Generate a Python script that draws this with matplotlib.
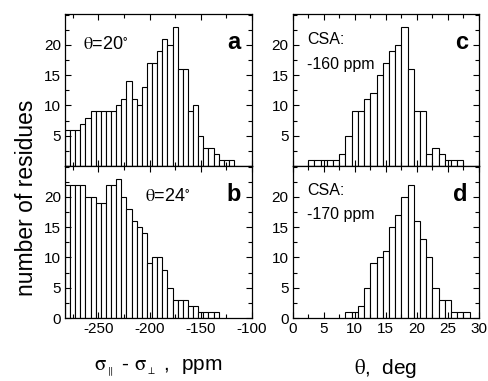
import numpy as np
import matplotlib.pyplot as plt
from matplotlib.ticker import MultipleLocator

plt.rcParams['font.family'] = ['Liberation Sans', 'DejaVu Sans']
plt.rcParams['mathtext.fontset'] = 'stix'
plt.rcParams['axes.unicode_minus'] = False

# histogram data
csa_a = np.arange(-280, -119, 5)
counts_a = [6, 6, 6, 7, 8, 9, 9, 9, 9, 9, 10, 11, 14, 11, 10, 13, 17, 17, 19, 21,
            20, 23, 16, 16, 9, 10, 5, 3, 3, 2, 1, 1, 1]
csa_b = np.arange(-280, -134, 5)
counts_b = [22, 22, 22, 22, 20, 20, 19, 19, 22, 22, 23, 20, 18, 16, 15, 14, 9, 10,
            10, 8, 5, 3, 3, 3, 2, 2, 1, 1, 1, 1]
theta_c = np.arange(3, 28)
counts_c = [1, 1, 1, 1, 1, 2, 5, 9, 9, 11, 12, 15, 17, 19, 20, 23, 16, 9, 9, 2, 3, 2,
            1, 1, 1]
theta_d = np.arange(9, 29)
counts_d = [1, 1, 2, 5, 9, 10, 11, 15, 17, 20, 22, 16, 13, 10, 5, 3, 3, 1, 1, 1]

fig = plt.figure(figsize=(4.88, 3.81), dpi=100)
W, H = 488.0, 381.0

def make_ax(x0, x1, y0, y1):
    return fig.add_axes([x0 / W, 1 - y1 / H, (x1 - x0) / W, (y1 - y0) / H])

ax_a = make_ax(65, 252, 14, 166)
ax_b = make_ax(65, 252, 166, 318)
ax_c = make_ax(292.7, 479, 14, 166)
ax_d = make_ax(292.7, 479, 166, 318)

ax_a.bar(csa_a, counts_a, width=5, color='white', edgecolor='black', linewidth=0.8)
ax_b.bar(csa_b, counts_b, width=5, color='white', edgecolor='black', linewidth=0.8)
ax_c.bar(theta_c, counts_c, width=1, color='white', edgecolor='black', linewidth=0.8)
ax_d.bar(theta_d, counts_d, width=1, color='white', edgecolor='black', linewidth=0.8)

for ax in [ax_a, ax_b]:
    ax.set_xlim(-282.5, -100)
    ax.xaxis.set_major_locator(MultipleLocator(50))
    ax.xaxis.set_minor_locator(MultipleLocator(25))
for ax in [ax_c, ax_d]:
    ax.set_xlim(0, 30)
    ax.xaxis.set_major_locator(MultipleLocator(5))
    ax.xaxis.set_minor_locator(MultipleLocator(2.5))

for ax in [ax_a, ax_b, ax_c, ax_d]:
    ax.set_ylim(0, 25.1)
    ax.yaxis.set_major_locator(MultipleLocator(5))
    ax.yaxis.set_minor_locator(MultipleLocator(2.5))
    ax.tick_params(which='both', direction='in', top=True, right=True,
                   labelsize=11, pad=3)
    ax.tick_params(which='major', length=4, width=0.8)
    ax.tick_params(which='minor', length=3, width=0.8)
    for s in ax.spines.values():
        s.set_linewidth(0.9)

for ax in [ax_a, ax_c]:
    ax.tick_params(labelbottom=False)
    ax.set_yticks([5, 10, 15, 20])
for ax in [ax_b, ax_d]:
    ax.set_yticks([0, 5, 10, 15, 20])

ax_a.text(-265, 20, r'$\mathrm{\theta}$=20$^{\circ}$', fontsize=13, va='center')
ax_b.text(-204, 20, r'$\mathrm{\theta}$=24$^{\circ}$', fontsize=13, va='center')

for ax, lab in [(ax_a, 'a'), (ax_b, 'b'), (ax_c, 'c'), (ax_d, 'd')]:
    ax.text(0.94, 0.81, lab, transform=ax.transAxes, fontsize=17,
            fontweight='bold', ha='right', va='center')

ax_c.text(0.077, 0.83, 'CSA:', transform=ax_c.transAxes, fontsize=11.5, va='center')
ax_c.text(0.077, 0.67, '-160 ppm', transform=ax_c.transAxes, fontsize=11.5, va='center')
ax_d.text(0.077, 0.84, 'CSA:', transform=ax_d.transAxes, fontsize=11.5, va='center')
ax_d.text(0.077, 0.684, '-170 ppm', transform=ax_d.transAxes, fontsize=11.5, va='center')

fig.text(27 / W, 1 - 198 / H, 'number of residues', rotation=90, fontsize=16.5,
         ha='center', va='center')
fig.text(158.5 / W, 1 - 368 / H,
         r'$\mathrm{\sigma}_{_{\parallel}}$ - $\mathrm{\sigma}_{_{\perp}}$ ,  ppm',
         fontsize=15, ha='center', va='center')
fig.text(386 / W, 1 - 368 / H, r'$\mathrm{\theta}$,  deg', fontsize=15,
         ha='center', va='center')

plt.savefig('out.png', dpi=100)
